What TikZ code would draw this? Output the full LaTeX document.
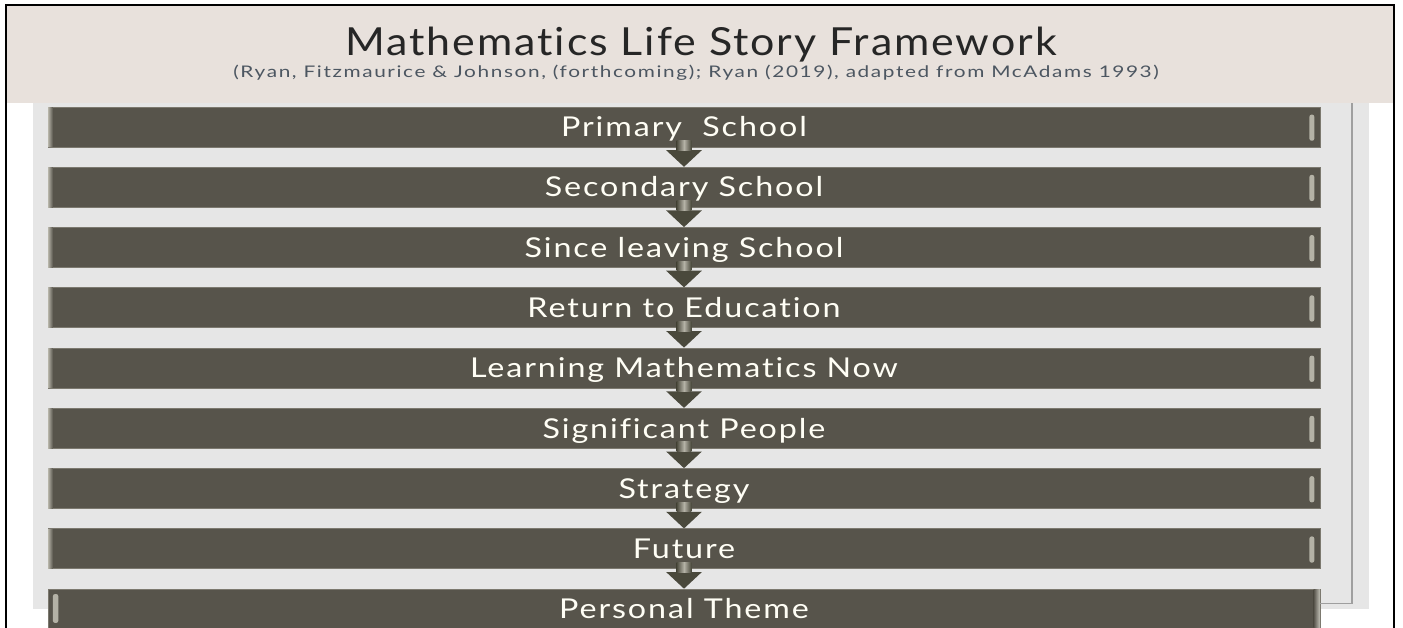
\documentclass[tikz,border=0pt]{standalone}
\usepackage{fontspec}
\setmainfont{Lato}[Ligatures=NoCommon]
\newfontfamily\barfont{Lato}[FakeStretch=1.18, LetterSpace=7, Ligatures=NoCommon]
\newfontfamily\titlefont{Lato}[FakeStretch=1.11, LetterSpace=5, Ligatures=NoCommon]
\newfontfamily\sourcefont{Lato}[FakeStretch=1.3, LetterSpace=10, Ligatures=NoCommon]
\usetikzlibrary{positioning,arrows.meta,calc}
\definecolor{bandbeige}{HTML}{E8E1DC}
\definecolor{panelgray}{HTML}{E6E6E6}
\definecolor{barfill}{HTML}{57544B}
\definecolor{baredge}{HTML}{7C796F}
\definecolor{capgray}{HTML}{B4B2A6}
\definecolor{arrowgray}{HTML}{4A493C}
\definecolor{subblue}{HTML}{4C5661}
\tikzset{
	stagebar/.style={rectangle, draw=baredge, line width=0.6pt, fill=barfill,
		minimum width=954pt, minimum height=30pt, inner sep=0pt,
		text=white!96!yellow, font=\barfont\fontsize{20.5}{22}\selectfont,
		text height=14.5pt, text depth=0pt},
	flowarrow/.style={arrowgray, line width=11pt,
		-{Triangle[width=26pt,length=12.5pt]}},
	shafthl/.style={left color=arrowgray, right color=arrowgray, middle color=capgray},
	capleft/.style={left color=capgray, right color=barfill},
	capright/.style={fill=capgray, rounded corners=1.5pt},
}
\begin{document}
\begin{tikzpicture}[x=0.75pt, y=-0.75pt, node distance=14.6pt]
	\useasboundingbox (0,0) rectangle (1403,628);
	\fill[white] (0,0) rectangle (1403,628);
	% title band and back panel
	\fill[bandbeige] (7,6) rectangle (1393,103);
	\fill[panelgray] (33,103) rectangle (1369,609);
	\draw[black, line width=1.5pt] (6,628) -- (6,5) -- (1394,5) -- (1394,628);
	\node[text=black!85, font=\titlefont\fontsize{29}{32}\selectfont, anchor=base] (title) at (701,55)
		{Mathematics Life Story Framework};
	\node[text=subblue, font=\sourcefont\fontsize{12}{13}\selectfont, anchor=base] (source) at (696,77)
		{(Ryan, Fitzmaurice \& Johnson, (forthcoming); Ryan (2019), adapted from McAdams 1993)};
	% the stages
	\node[stagebar] (b1) at (684,127) {Primary\ \ School};
	\node[stagebar, below=of b1] (b2) {Secondary School};
	\node[stagebar, below=of b2] (b3) {Since leaving School};
	\node[stagebar, below=of b3] (b4) {Return to Education};
	\node[stagebar, below=of b4] (b5) {Learning Mathematics Now};
	\node[stagebar, below=of b5] (b6) {Significant People};
	\node[stagebar, below=of b6] (b7) {Strategy};
	\node[stagebar, below=of b7] (b8) {Future};
	\node[stagebar, below=of b8] (b9) {Personal Theme};
	\foreach \b in {b1,b2,b3,b4,b5,b6,b7,b8} {
		\shade[capleft] ([xshift=0.4pt,yshift=-0.4pt]\b.north west) rectangle ([xshift=4pt,yshift=0.4pt]\b.south west);
		\fill[capright] ([xshift=-8.2pt,yshift=-6pt]\b.north east) rectangle ([xshift=-4.6pt,yshift=5pt]\b.south east);
	}
	\fill[capright] ([xshift=4pt,yshift=-4pt]b9.north west) rectangle ([xshift=8pt,yshift=5pt]b9.south west);
	\shade[left color=barfill, right color=capgray!80!white] ([xshift=-5pt,yshift=-0.4pt]b9.north east) rectangle ([xshift=-0.4pt,yshift=0.4pt]b9.south east);
	% arrows between the stages
	\foreach \a/\b in {b1/b2,b2/b3,b3/b4,b4/b5,b5/b6,b6/b7,b7/b8,b8/b9} {
		\draw[flowarrow] ([yshift=5.2pt]\a.south) -- (\b.north);
		\shade[shafthl] ([xshift=-5.5pt,yshift=5.2pt]\a.south) rectangle ([xshift=5.5pt,yshift=-2.2pt]\a.south);
	}
	% bracket from the theme back to the top
	\coordinate (top) at (1352,103);
	\draw[gray!75, line width=0.8pt] ([yshift=4.5pt]b9.east) -| (top);
\end{tikzpicture}
\end{document}
